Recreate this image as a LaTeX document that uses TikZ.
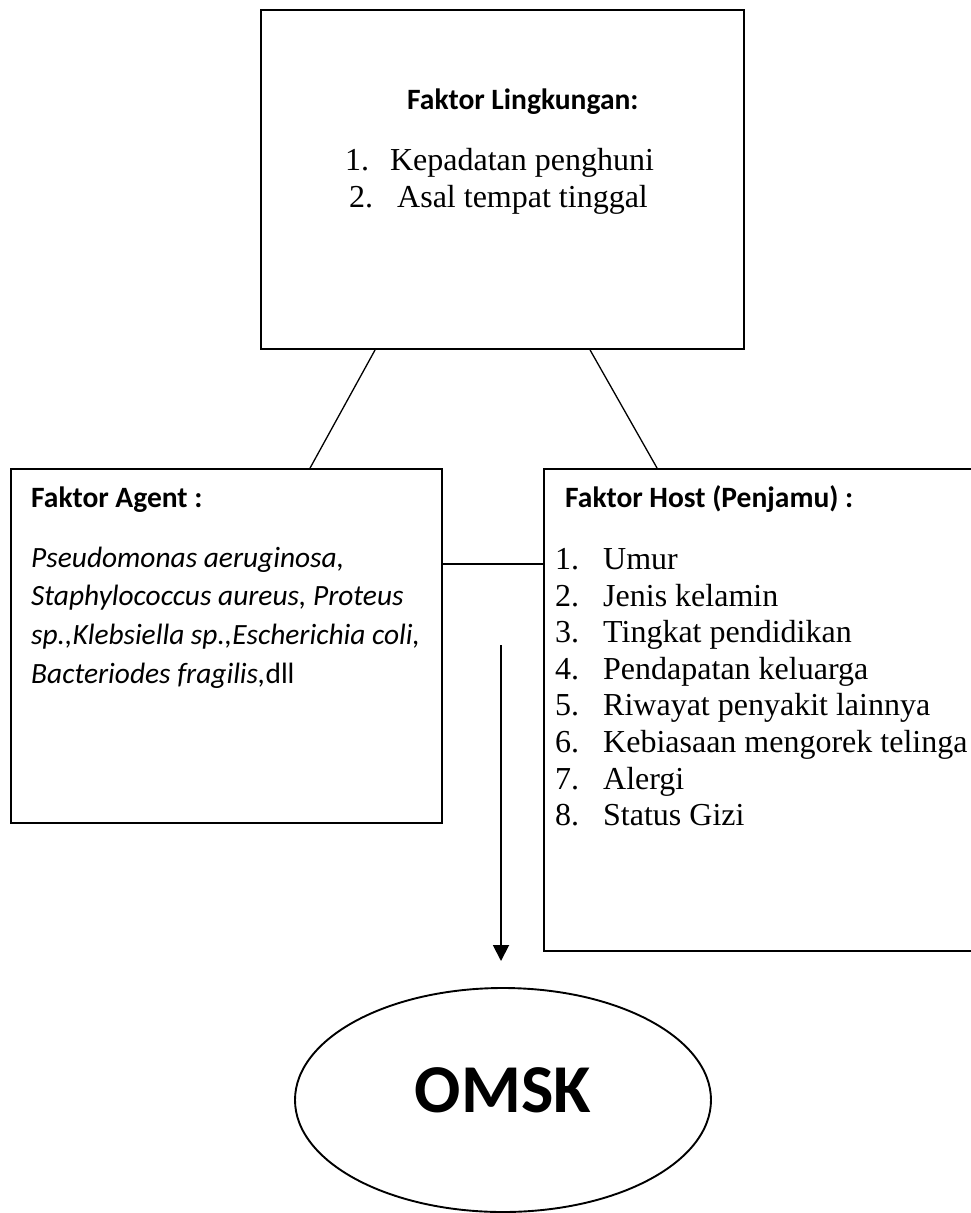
\documentclass[tikz,border=0pt]{standalone}
\usepackage{fontspec}
\setmainfont{Liberation Serif}
\newfontfamily\carlito{Carlito}
\usetikzlibrary{arrows.meta}
\usetikzlibrary{shapes.geometric}
\tikzset{factorbox/.style = {draw, line width=1.9pt, inner sep=0pt}}
\tikzset{link/.style = {line width=1.3pt}}
\tikzset{heading/.style = {anchor=base west, inner sep=0pt,
                           font=\carlito\bfseries\fontsize{29.5}{34}\selectfont}}
\tikzset{agentline/.style = {anchor=base west, inner sep=0pt,
                             font=\carlito\itshape\fontsize{29.4}{38}\selectfont}}
\tikzset{listline/.style = {anchor=base west, inner sep=0pt,
                            font=\fontsize{32}{37}\selectfont}}

\begin{document}
\begin{tikzpicture}[x=1pt, y=-1pt]
    \useasboundingbox (0, 0) rectangle (971, 1213);

    % boxes
    \node [factorbox, minimum width=483pt, minimum height=339pt] (lingkungan) at (502.5, 179.5) {};
    \node [factorbox, minimum width=431pt, minimum height=354pt] (agent) at (226.5, 646) {};
    \node [factorbox, minimum width=436pt, minimum height=482pt] (host) at (762, 710) {};
    \node [ellipse, draw, line width=1.9pt, minimum width=416pt, minimum height=224pt, inner sep=0pt,
           text depth=20pt, font=\carlito\bfseries\fontsize{68.5}{80}\selectfont] (omsk) at (503, 1100) {OMSK};

    % texts
    \node [heading] (lingkungan-title) at (407, 109) {Faktor Lingkungan:};
    \node [listline, anchor=base] (lingkungan-1) at (499.5, 170) {\makebox[45pt][l]{1.}Kepadatan penghuni};
    \node [listline, anchor=base] (lingkungan-2) at (498.5, 207) {\makebox[48pt][l]{2.}Asal tempat tinggal};

    \node [heading] (agent-title) at (31, 507) {Faktor Agent :};
    \node [agentline] (agent-1) at (31, 567) {Pseudomonas aeruginosa,};
    \node [agentline] (agent-2) at (31, 605) {Staphylococcus aureus, Proteus};
    \node [agentline] (agent-3) at (31, 644) {sp.,Klebsiella sp.,Escherichia coli,};
    \node [agentline] (agent-4) at (31, 683) {Bacteriodes fragilis,\upshape dll};

    \node [heading] (host-title) at (565, 507) {Faktor Host (Penjamu) :};
    \foreach \txt [count=\i] in {Umur, Jenis kelamin, Tingkat pendidikan, Pendapatan keluarga,
                                 Riwayat penyakit lainnya, Kebiasaan mengorek telinga, Alergi, Status Gizi}
        \node [listline] (host-\i) at (555, {569.5 + 36.6*(\i-1)}) {\makebox[48pt][l]{\i.}\txt};

    % connectors
    \draw [link] ([xshift=115pt]lingkungan.south west) -- ([xshift=300pt]agent.north west);
    \draw [link] ([xshift=330pt]lingkungan.south west) -- ([xshift=114pt]host.north west);
    \draw [link] ([yshift=-96pt]agent.north east) -- ([yshift=-96pt]host.north west);
    \coordinate (arrowtop) at (501, 645);
    \coordinate (arrowtip) at (501, 961);
    \draw [line width=1.9pt, -{Triangle[length=16pt, width=16pt]}] (arrowtop) -- (arrowtip);
\end{tikzpicture}
\end{document}
